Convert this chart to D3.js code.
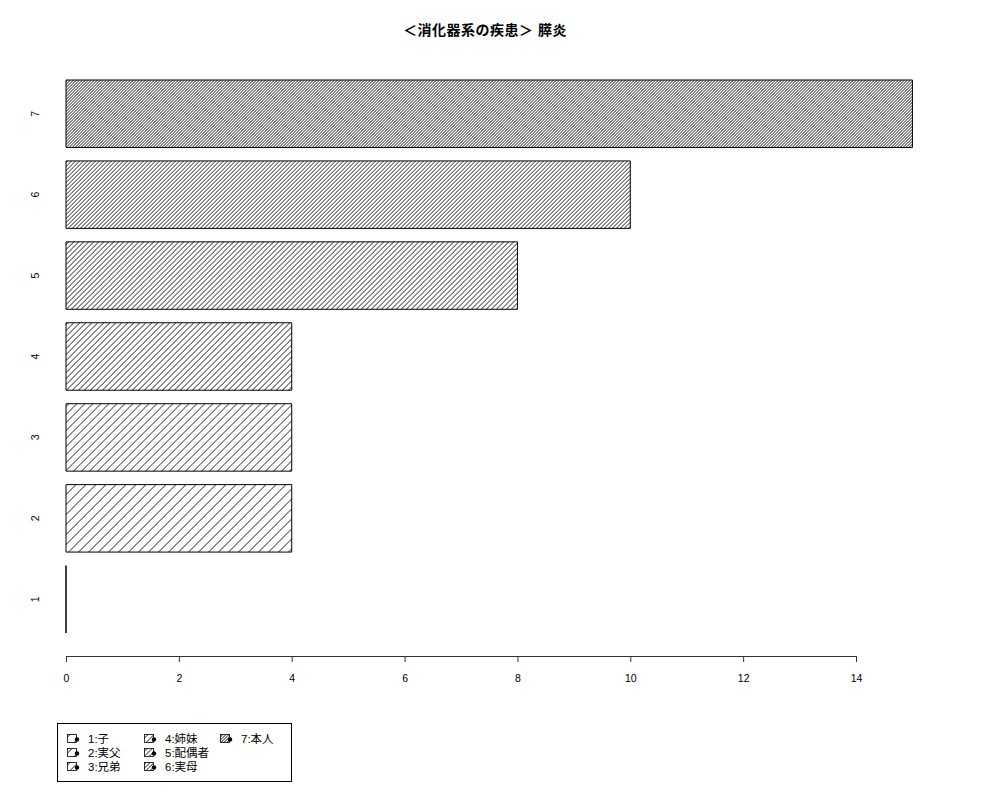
<!DOCTYPE html>
<html>
<head>
<meta charset="utf-8">
<script src="https://cdn.jsdelivr.net/npm/d3@7"></script>
<style>
  body { margin: 0; background: #fff; }
  svg { font-family: "Liberation Sans", Arial, "Noto Sans CJK JP", sans-serif; }
</style>
</head>
<body>
<svg id="chart" width="1000" height="800"></svg>
<script>
// ---- data ----
const title = '＜消化器系の疾患＞ 膵炎';
const categories = ['1', '2', '3', '4', '5', '6', '7'];
const counts = [0, 4, 4, 4, 8, 10, 15];
const legendLabels = ['1:子', '2:実父', '3:兄弟', '4:姉妹', '5:配偶者', '6:実母', '7:本人'];
const xTicks = [0, 2, 4, 6, 8, 10, 12, 14];

// hatch spacing (horizontal px) per category, sparse -> dense
const HATCH = [12, 10, 8, 6, 5, 4, 3];

const svg = d3.select('#chart');
const defs = svg.append('defs');

HATCH.forEach((h, i) => {
  const s = h / Math.SQRT2;
  const p = defs.append('pattern')
    .attr('id', `hatch-${i}`)
    .attr('patternUnits', 'userSpaceOnUse')
    .attr('width', s).attr('height', s)
    .attr('patternTransform', 'rotate(45)');
  p.append('rect').attr('width', s).attr('height', s).attr('fill', '#fff');
  p.append('line')
    .attr('x1', 0).attr('y1', 0).attr('x2', 0).attr('y2', s)
    .attr('stroke', '#000').attr('stroke-width', 1.3);
});

const x = d3.scaleLinear().domain([0, 14]).range([66, 856]);
const y = d3.scaleBand().domain(categories).range([633, 80])
  .paddingInner(0.2 / 1.2).paddingOuter(0);

// title
svg.append('text')
  .attr('x', 485).attr('y', 35)
  .attr('text-anchor', 'middle')
  .attr('font-size', 14).attr('font-weight', 'bold')
  .attr('letter-spacing', 0.5)
  .text(title);

// bars (path so a zero-width bar still shows its outline)
svg.append('g').selectAll('path')
  .data(categories)
  .join('path')
    .attr('d', (c, i) => {
      const x0 = x(0), x1 = x(counts[i]);
      const y0 = y(c), h = y.bandwidth();
      return `M${x0},${y0}H${x1}V${y0 + h}H${x0}Z`;
    })
    .attr('fill', (c, i) => `url(#hatch-${i})`)
    .attr('stroke', '#000')
    .attr('stroke-width', 1);

// category labels (rotated, no axis line)
svg.append('g').selectAll('text')
  .data(categories)
  .join('text')
    .attr('transform', c => `translate(39,${y(c) + y.bandwidth() / 2}) rotate(-90)`)
    .attr('text-anchor', 'middle')
    .attr('font-size', 10.5)
    .text(c => c);

// x axis
const xAxis = svg.append('g')
  .attr('transform', 'translate(0,656)')
  .call(d3.axisBottom(x).tickValues(xTicks).tickSize(6).tickSizeOuter(0).tickPadding(13));
xAxis.select('.domain').attr('stroke', '#333');
xAxis.selectAll('.tick line').attr('stroke', '#333');
xAxis.selectAll('text').attr('font-size', 10.5).attr('font-family', null).attr('fill', '#000');

// legend
const lg = svg.append('g');
lg.append('rect')
  .attr('x', 57.5).attr('y', 723.5).attr('width', 234).attr('height', 58)
  .attr('fill', '#fff').attr('stroke', '#000');

const colX = [67, 144, 220];
const rowY = [739, 753, 767];
legendLabels.forEach((lab, i) => {
  const cx = colX[Math.floor(i / 3)], cy = rowY[i % 3];
  lg.append('rect')
    .attr('x', cx + 0.5).attr('y', cy - 4.5).attr('width', 9).attr('height', 8)
    .attr('fill', `url(#hatch-${i})`).attr('stroke', '#000').attr('stroke-width', 0.8);
  lg.append('circle')
    .attr('cx', cx + 10).attr('cy', cy + 0.5).attr('r', 2.2).attr('fill', '#000');
  lg.append('text')
    .attr('x', cx + 21).attr('y', cy + 4)
    .attr('font-size', 11.5)
    .text(lab);
});
</script>
</body>
</html>
